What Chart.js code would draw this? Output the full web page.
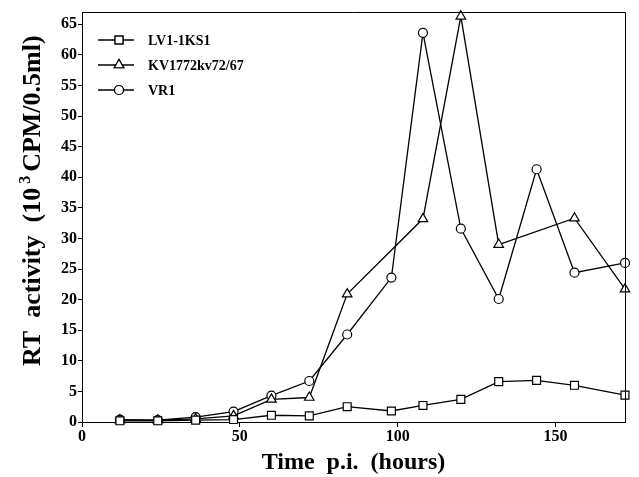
<!DOCTYPE html>
<html>
<head>
<meta charset="utf-8">
<script src="https://cdn.jsdelivr.net/npm/chart.js@4.4.1/dist/chart.umd.min.js"></script>
<style>
html,body{margin:0;padding:0;background:#fff;}
#wrap{width:639px;height:477px;}
</style>
</head>
<body>
<div id="wrap"><canvas id="c" width="639" height="477"></canvas></div>
<script>
const times = [12, 24, 36, 48, 60, 72, 84, 98, 108, 120, 132, 144, 156, 172];
const lv1 = [0.2, 0.2, 0.3, 0.4, 1.1, 1.0, 2.5, 1.8, 2.7, 3.7, 6.6, 6.8, 6.0, 4.4];
const kv1772 = [0.3, 0.3, 0.5, 1.0, 3.7, 4.0, 20.9, null, 33.2, 66.3, 29.0, null, 33.3, 21.7];
const vr1 = [0.4, 0.3, 0.8, 1.7, 4.3, 6.7, 14.3, 23.6, 63.6, 31.6, 20.1, 41.3, 24.4, 26.0];
const seriesNames = ['LV1-1KS1', 'KV1772kv72/67', 'VR1'];
const xTicks = [0, 50, 100, 150];
const yTicks = [0, 5, 10, 15, 20, 25, 30, 35, 40, 45, 50, 55, 60, 65];
const xTitle = 'Time  p.i.  (hours)';
const yTitleParts = ['RT  activity  (10', '3', 'CPM/0.5ml)'];

function pts(vals){
  const out = [];
  times.forEach((t,i)=>{ if(vals[i]!==null) out.push({x:t,y:vals[i]}); });
  return out;
}
const FONT = "'Liberation Serif', 'DejaVu Serif', serif";
function ds(label, vals, style, r){
  return {label, data: pts(vals), borderColor:'#000', backgroundColor:'#fff',
    borderWidth:1.3, pointStyle:style, pointRadius:r, pointBorderWidth:1.2,
    pointBackgroundColor:'#fff', pointBorderColor:'#000', tension:0, clip:false, fill:false};
}
const frameLegend = {
  id:'frameLegend',
  afterDraw(chart){
    const ctx = chart.ctx, a = chart.chartArea;
    ctx.save();
    ctx.strokeStyle = '#000'; ctx.lineWidth = 1;
    ctx.beginPath();
    ctx.moveTo(a.left, a.top+0.5); ctx.lineTo(a.right+0.5, a.top+0.5); ctx.lineTo(a.right+0.5, a.bottom);
    ctx.stroke();
    // legend
    const rows = [40, 65, 90];
    chart.data.datasets.forEach((d,i)=>{
      const y = rows[i];
      ctx.strokeStyle='#000'; ctx.lineWidth=1.3;
      ctx.beginPath(); ctx.moveTo(98,y); ctx.lineTo(134,y); ctx.stroke();
      ctx.fillStyle='#fff'; ctx.lineWidth=1.2;
      Chart.helpers.drawPoint(ctx, {pointStyle:d.pointStyle, radius:d.pointRadius, borderWidth:1.2}, 119, y);
      ctx.fill(); ctx.stroke();
      ctx.fillStyle='#000';
      ctx.font = "bold 14px " + FONT;
      ctx.textBaseline='middle'; ctx.textAlign='left';
      ctx.fillText(d.label, 148, y+1);
    });
    // y axis title (rotated, with superscript)
    ctx.translate(33, 366);
    ctx.rotate(-Math.PI/2);
    ctx.fillStyle='#000';
    ctx.textBaseline='middle'; ctx.textAlign='left';
    let xx = 0;
    ctx.font = "bold 26px " + FONT;
    ctx.fillText(yTitleParts[0], xx, 0); xx += ctx.measureText(yTitleParts[0]).width + 4;
    ctx.font = "bold 16px " + FONT;
    ctx.fillText(yTitleParts[1], xx, -7); xx += ctx.measureText(yTitleParts[1]).width + 4;
    ctx.font = "bold 26px " + FONT;
    ctx.fillText(yTitleParts[2], xx, 0);
    ctx.restore();
  }
};
new Chart(document.getElementById('c'), {
  type:'line',
  data:{datasets:[
    ds(seriesNames[0], lv1, 'rect', 5.6),
    ds(seriesNames[1], kv1772, 'triangle', 5.5),
    ds(seriesNames[2], vr1, 'circle', 4.5)
  ]},
  options:{
    responsive:false, animation:false, devicePixelRatio:1,
    layout:{padding:{top:12,right:14,left:0,bottom:0}},
    plugins:{legend:{display:false}, tooltip:{enabled:false}},
    scales:{
      x:{type:'linear', min:0, max:172,
        afterBuildTicks(s){ s.ticks = xTicks.map(v=>({value:v})); },
        afterFit(s){ s.height = 55; },
        grid:{display:true, drawOnChartArea:false, drawTicks:true, tickLength:5, color:'#000'},
        border:{display:true, color:'#000', width:1},
        ticks:{color:'#000', font:{family:FONT, size:16, weight:'bold'}, padding:0, maxRotation:0},
        title:{display:true, text:xTitle, color:'#000', font:{family:FONT, size:24, weight:'bold', lineHeight:1}, padding:{top:0,bottom:2}}
      },
      y:{type:'linear', min:0, max:67,
        afterBuildTicks(s){ s.ticks = yTicks.map(v=>({value:v})); },
        afterFit(s){ s.width = 82; },
        grid:{display:true, drawOnChartArea:false, drawTicks:true, tickLength:4, color:'#000'},
        border:{display:true, color:'#000', width:1},
        ticks:{color:'#000', font:{family:FONT, size:16, weight:'bold'}, padding:1},
        title:{display:false}
      }
    }
  },
  plugins:[frameLegend]
});
</script>
</body>
</html>
